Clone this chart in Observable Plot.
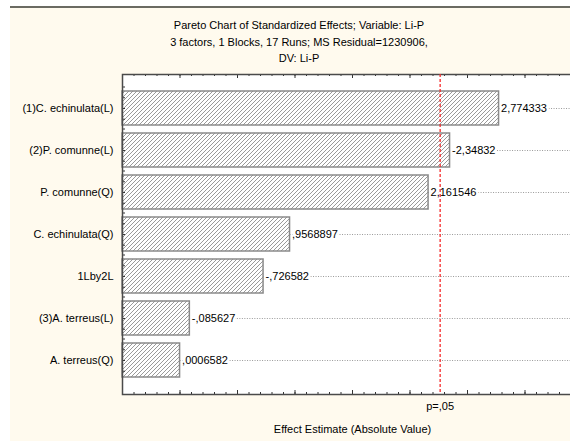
<!DOCTYPE html>
<html>
<head>
<meta charset="utf-8">
<script src="https://cdn.jsdelivr.net/npm/d3@7"></script>
<script src="https://cdn.jsdelivr.net/npm/@observablehq/plot@0.6"></script>
<style>
  html, body { margin: 0; padding: 0; background: #ffffff; }
  #chart { position: relative; width: 570px; height: 441px; overflow: hidden; font-family: "Liberation Sans", Arial, sans-serif; }
  #panel { position: absolute; left: 10px; top: 6px; right: 0; bottom: 0; background: #fffaee; border-top: 2px solid #6b6b62; }
  #title { position: absolute; left: 0; width: 598px; top: 17px; text-align: center; font-size: 11px; line-height: 16.5px; color: #000; }
  #plot { position: absolute; left: 0; top: 0; width: 582px; }
  #plot svg { max-width: none !important; }
</style>
</head>
<body>
<div id="chart">
  <div id="panel"></div>
  <div id="title">
    <div>Pareto Chart of Standardized Effects; Variable: Li-P</div>
    <div>3 factors, 1 Blocks, 17 Runs; MS Residual=1230906,</div>
    <div>DV: Li-P</div>
  </div>
  <div id="plot"></div>
</div>
<script>
// Effects, in the order they are ranked on the chart
const factors = [
  "(1)C. echinulata(L)",
  "(2)P. comunne(L)",
  "P. comunne(Q)",
  "C. echinulata(Q)",
  "1Lby2L",
  "(3)A. terreus(L)",
  "A. terreus(Q)"
];
// Signed standardized effect estimates (t values)
const effects = [2.774333, -2.34832, 2.161546, 0.9568897, -0.726582, -0.085627, 0.0006582];

// Critical t value for p = .05
const pCritical = 2.262157;
const pLabel = "p=,05";

// Horizontal axis extent and tick spacing
const axisMin = -0.5;
const axisMax = 3.5;
const minorStep = 0.1;
const majorStep = 0.5;
const xTitle = "Effect Estimate (Absolute Value)";

// Decimal comma, no leading zero
const fmt = v => String(v).replace(".", ",").replace(/^(-?)0,/, "$1,");

const rows = factors.map((f, i) => ({factor: f, effect: effects[i], abs: Math.abs(effects[i]), label: fmt(effects[i])}));

const minorTicks = d3.range(Math.round((axisMax - axisMin) / minorStep) + 1).map(i => +(axisMin + i * minorStep).toFixed(2));
const majorTicks = minorTicks.filter(v => Math.abs(v / majorStep - Math.round(v / majorStep)) < 1e-9);

const width = 582, height = 441;
const margin = {top: 74, right: 0, bottom: 47, left: 122};
const frameH = height - margin.top - margin.bottom;
const frameW = width - margin.left - margin.right;
const padInner = 0.186, padOuter = 0.314;
const step = frameH / (factors.length - padInner + 2 * padOuter);
const tickLen = 3 * (axisMax - axisMin) / frameW; // 3px, in data units

const sideTicks = [-2, -1, 0, 1].map(k =>
  Plot.ruleY(factors, {y: d => d, x1: axisMin, x2: axisMin + tickLen, dy: k * step / 4, stroke: "#333", strokeWidth: 1})
);

const chart = Plot.plot({
  width, height,
  marginTop: margin.top, marginRight: margin.right, marginBottom: margin.bottom, marginLeft: margin.left,
  style: {fontFamily: "'Liberation Sans', Arial, sans-serif", fontSize: "11px", background: "transparent", color: "#000", overflow: "visible", maxWidth: "none"},
  x: {domain: [axisMin, axisMax], axis: null},
  y: {domain: factors, paddingInner: padInner, paddingOuter: padOuter, align: 0.5},
  marks: [
    Plot.frame({fill: "white", stroke: null}),
    // dotted guide from each value label to the right edge
    Plot.ruleY(rows, {y: "factor", x1: "abs", x2: axisMax, stroke: "#9a9a9a", strokeDasharray: "1,1.5", strokeWidth: 1}),
    Plot.text(rows, {y: "factor", x: "abs", text: "label", textAnchor: "start", dx: 2, fill: "#000", stroke: "white", strokeWidth: 5, paintOrder: "stroke"}),
    Plot.barX(rows, {y: "factor", x1: axisMin, x2: "abs", fill: "url(#hatch)", stroke: "#8a8a8a", strokeWidth: 1.5}),
    ...sideTicks,
    // inward ticks along the bottom and top edges
    Plot.tickX(minorTicks, {x: d => d, insetTop: frameH - 2, stroke: "#333"}),
    Plot.tickX(majorTicks, {x: d => d, insetTop: frameH - 4, stroke: "#333"}),
    Plot.tickX(minorTicks, {x: d => d, insetBottom: frameH - 2, stroke: "#333"}),
    Plot.tickX(majorTicks, {x: d => d, insetBottom: frameH - 4, stroke: "#333"}),
    Plot.frame({stroke: "#4a4a4a", strokeWidth: 1.5}),
    Plot.ruleX([pCritical], {stroke: "#f52a2a", strokeDasharray: "3,2", strokeWidth: 1.3}),
    Plot.text([pCritical], {x: d => d, frameAnchor: "bottom", dy: 15, text: () => pLabel, fill: "#000"}),
    Plot.text([xTitle], {frameAnchor: "bottom", dy: 38, text: d => d, fill: "#000"}),
    Plot.axisY({tickSize: 0, tickPadding: 9, label: null, fontSize: 11})
  ]
});

// diagonal hatch used to fill the bars
d3.select(chart).insert("defs", ":first-child").html(
  '<pattern id="hatch" patternUnits="userSpaceOnUse" width="4" height="4">' +
  '<rect width="4" height="4" fill="white"/>' +
  '<path d="M-1,1 L1,-1 M0,4 L4,0 M3,5 L5,3" stroke="#8e8e8e" stroke-width="0.9"/>' +
  '</pattern>'
);

document.getElementById("plot").appendChild(chart);
</script>
</body>
</html>
